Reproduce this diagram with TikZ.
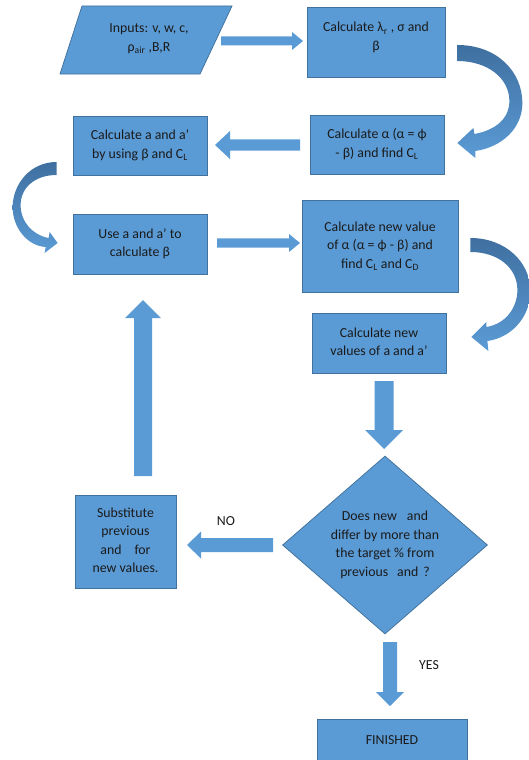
\documentclass[tikz,border=0pt]{standalone}
\usepackage{fontspec}
\setmainfont{Carlito}
\usetikzlibrary{calc,shapes.geometric}
\definecolor{bfill}{HTML}{5B9BD5}
\definecolor{bline}{HTML}{41719C}
\definecolor{bdark}{HTML}{3F6FA0}
\definecolor{tcol}{HTML}{1A1A1A}
\newcommand\ml[1]{\begin{tabular}{@{}c@{}}#1\end{tabular}}
\newcommand\blockarrow[5]{%
  \coordinate (hb) at ($(#2)!#5!(#1)$);
  \fill[bfill] ($(#1)!#3!90:(#2)$) -- ($(hb)!#3!-90:(#1)$) -- ($(hb)!#4!-90:(#1)$) -- (#2) -- ($(hb)!#4!90:(#1)$) -- ($(hb)!#3!90:(#1)$) -- ($(#1)!#3!-90:(#2)$) -- cycle;}
\begin{document}
\begin{tikzpicture}[x=1pt,y=-1pt,
  tfont/.style={font=\fontsize{13.8}{18.5}\selectfont, text=tcol},
  box/.style={rectangle, draw=bline, line width=0.75pt, fill=bfill, inner sep=0pt, tfont},
  curved/.style={top color=bdark, bottom color=bfill}]
\useasboundingbox (0,0) rectangle (529,760);

% input parallelogram
\draw[draw=bline, line width=0.75pt, fill=bfill] (82,6) -- (232,6) -- (200,74) -- (60,74) -- cycle;
\node[tfont, inner sep=0pt] (in) at (149,38.5) {\ml{Inputs: v, w, c,\\ρ\textsubscript{air} ,B,R}};

\node[box, minimum width=138pt, minimum height=70pt] (b1) at (376,42) {\raisebox{4.5pt}[\height][\depth]{\ml{Calculate λ\textsubscript{r} , σ and\\β}}};
\node[box, minimum width=134pt, minimum height=59pt] (b2) at (377,144.5) {\ml{Calculate α (α = ϕ\\- β) and find C\textsubscript{L}}};
\node[box, minimum width=134pt, minimum height=59pt] (b3) at (140,145.5) {\ml{Calculate a and a’\\by using β and C\textsubscript{L}}};
\node[box, minimum width=134pt, minimum height=60pt] (b4) at (140,244) {\ml{Use a and a’ to\\calculate β}};
\node[box, minimum width=156pt, minimum height=92pt] (b5) at (380,246) {\ml{Calculate new value\\of α (α = ϕ - β) and\\find C\textsubscript{L} and C\textsubscript{D}}};
\node[box, minimum width=134pt, minimum height=60pt] (b6) at (379,343) {\ml{Calculate new\\values of a and a’}};
\node[diamond, draw=bline, line width=0.75pt, fill=bfill, inner sep=0pt, aspect=1.15, minimum width=205pt, minimum height=178pt, tfont] (dia) at (385,545) {\ml{Does new\hspace{10pt}and\\differ by more than\\the target \% from\\previous\hspace{9pt}and\hspace{5pt}?}};
\node[box, minimum width=101pt, minimum height=93pt] (b7) at (125.5,541.5) {\ml{Substitute\\previous\\and\hspace{13pt}for\\new values.}};
\node[box, minimum width=150pt, minimum height=43pt] (fin) at (392,740.5) {FINISHED};

\node[tfont, inner sep=0pt] (no) at (226,521) {NO};
\node[tfont, inner sep=0pt] (yes) at (429,665) {YES};

% straight block arrows
\coordinate (aAs) at (221,41);  \coordinate (aAt) at (303,41);
\blockarrow{aAs}{aAt}{4.5pt}{9pt}{11pt}
\coordinate (aBs) at (300,145); \coordinate (aBt) at (215,145);
\blockarrow{aBs}{aBt}{5.7pt}{14pt}{15pt}
\coordinate (aCs) at (217,243); \coordinate (aCt) at (300,243);
\blockarrow{aCs}{aCt}{4.7pt}{9pt}{11pt}
\coordinate (aDs) at (384,381); \coordinate (aDt) at (384,449);
\blockarrow{aDs}{aDt}{9.5pt}{19pt}{19pt}
\coordinate (aEs) at (273,545); \coordinate (aEt) at (187,545);
\blockarrow{aEs}{aEt}{7pt}{13.5pt}{14pt}
\coordinate (aFs) at (143,476); \coordinate (aFt) at (143,300);
\blockarrow{aFs}{aFt}{9pt}{18pt}{18pt}
\coordinate (aGs) at (390,642); \coordinate (aGt) at (390,706);
\blockarrow{aGs}{aGt}{7pt}{14pt}{14pt}

% curved arrows
\begin{scope}[shift={(b1.east)}]
\shade[curved] (12,3) .. controls (52,3) and (77,30) .. (77,61) .. controls (77,86) and (57,105) .. (30,109) -- (30,116) -- (12,101) -- (28,86) -- (29,92) .. controls (51,88) and (64,76) .. (64,59) .. controls (64,36) and (42,19) .. (12,19) -- cycle;
\end{scope}
\begin{scope}[shift={(b3.west)}]
\shade[curved] (-16,16.5) .. controls (-43,16.5) and (-60,39.5) .. (-60,61.5) .. controls (-60,82.5) and (-45,100.5) .. (-27,101.5) -- (-28,107.5) -- (-15,97.5) -- (-23,86.5) -- (-24,92.5) .. controls (-40,89.5) and (-52,76.5) .. (-52,59.5) .. controls (-52,42.5) and (-38,29.5) .. (-16,29.5) -- cycle;
\end{scope}
\begin{scope}[shift={(b5.east)}]
\shade[curved] (12,-8) .. controls (47,-8) and (72,16) .. (72,45) .. controls (72,72) and (52,92) .. (29,95) -- (30,105) -- (13,91) -- (28,76) -- (28,81) .. controls (47,78) and (59,62) .. (59,44) .. controls (59,22) and (40,6) .. (12,6) -- cycle;
\end{scope}
\end{tikzpicture}
\end{document}
